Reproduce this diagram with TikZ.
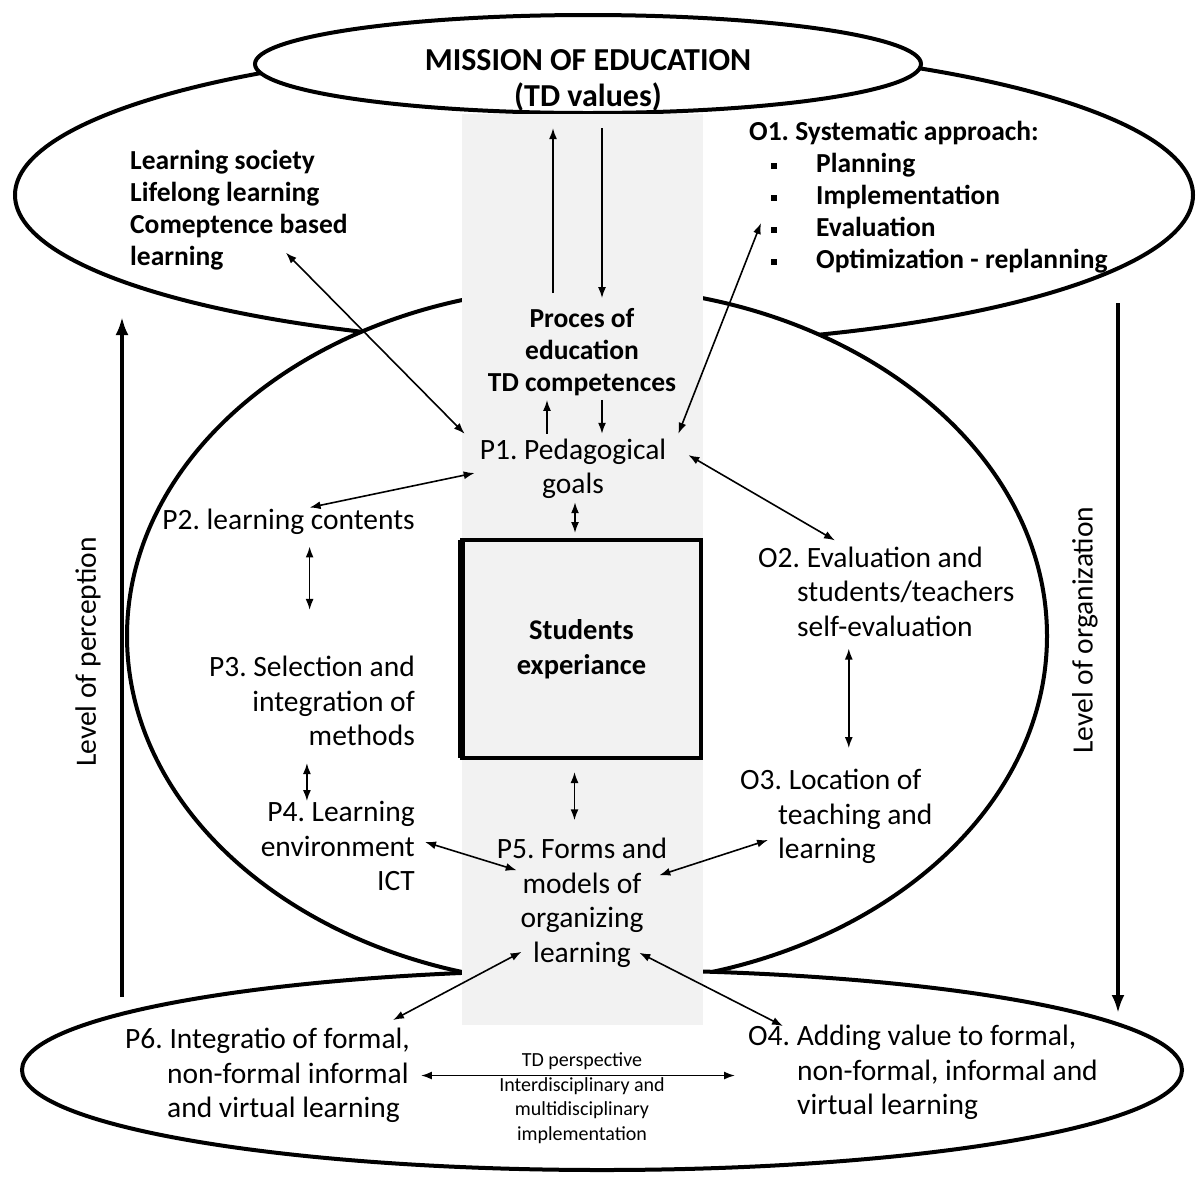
\documentclass[tikz,border=0pt]{standalone}
\usepackage{fontspec}
\setmainfont{Carlito}
\usetikzlibrary{arrows.meta}
\frenchspacing

\newcommand{\sqbullet}{\hspace*{22pt}\rule[3.4pt]{6pt}{6pt}\hspace*{39pt}}

\begin{document}
\begin{tikzpicture}[
  x = 1pt, y = -1pt,
  ring/.style = {
    draw = black,
    fill = white,
    line width = 4pt,
  },
  txt/.style = {
    inner sep = 0pt,
    font = \fontsize{29.5}{34.5}\selectfont,
  },
  boldtxt/.style = {
    inner sep = 0pt,
    font = \fontsize{27.5}{32}\selectfont\bfseries,
  },
  smalltxt/.style = {
    inner sep = 0pt,
    font = \fontsize{20}{24.5}\selectfont,
  },
  twoway/.style = {
    {Latex[length = 11pt, width = 8pt]}-{Latex[length = 11pt, width = 8pt]},
    line width = 1.6pt,
  },
  oneway/.style = {
    -{Latex[length = 11pt, width = 8pt]},
    line width = 1.6pt,
  },
  bigarrow/.style = {
    -{Latex[length = 18pt, width = 13pt]},
    line width = 3.5pt,
  }
]
  \useasboundingbox (0, 0) rectangle (1196, 1179);

  \draw[ring] (604, 195) ellipse [x radius = 589, y radius = 150];
  \draw[ring] (587, 636) ellipse [x radius = 460, y radius = 349];
  \draw[ring] (602, 1070) ellipse [x radius = 580, y radius = 100];
  \draw[ring] (588, 64) ellipse [x radius = 333, y radius = 49];

  \fill[gray!10] (462, 114) rectangle (703, 1025);

  \node[boldtxt, font = \fontsize{32}{36}\selectfont\bfseries, align = center] (mission) at (588, 80) {MISSION OF EDUCATION\\(TD values)};
  \node[boldtxt, anchor = west, align = left] (society) at (130, 210.5) {Learning society\\Lifelong learning\\Comeptence based\\learning};
  \node[boldtxt, anchor = west, align = left] (o1) at (749, 197.5) {O1. Systematic approach:\\\sqbullet Planning\\\sqbullet Implementation\\\sqbullet Evaluation\\\sqbullet Optimization - replanning};
  \node[boldtxt, align = center] (proces) at (582, 352) {Proces of\\education\\TD competences};

  \node[txt, align = center] (p1) at (573, 469) {P1. Pedagogical\\goals};
  \node[txt, anchor = east] (p2) at (415, 521.5) {P2. learning contents};
  \node[txt, anchor = east, align = right] (p3) at (415, 701) {P3. Selection and\\integration of\\methods};
  \node[txt, anchor = east, align = right] (p4) at (415, 846) {P4. Learning\\environment\\ICT};
  \node[txt, align = center] (p5) at (582, 903) {P5. Forms and\\models of\\organizing\\learning};
  \node[txt, anchor = west, align = left] (p6) at (125, 1075.5) {P6. Integratio of formal,\\\hspace*{42pt}non-formal informal\\\hspace*{42pt}and virtual learning};

  \node[txt, anchor = west, align = left] (o2) at (758, 591.5) {O2. Evaluation and\\\hspace*{39pt}students/teachers\\\hspace*{39pt}self-evaluation};
  \node[txt, anchor = west, align = left] (o3) at (740, 816.5) {O3. Location of\\\hspace*{38pt}teaching and\\\hspace*{38pt}learning};
  \node[txt, anchor = west, align = left] (o4) at (748, 1072.5) {O4. Adding value to formal,\\\hspace*{49pt}non-formal, informal and\\\hspace*{49pt}virtual learning};

  \node[draw, fill = gray!10, line width = 4pt, inner sep = 0pt, minimum width = 239pt, minimum height = 218pt, align = center, font = \fontsize{28.5}{35}\selectfont\bfseries] (box) at (581.5, 649) {Students\\experiance};
  \draw[line width = 7pt] ([xshift = 1.5pt, yshift = -2pt]box.north west) -- ([xshift = 1.5pt, yshift = 2pt]box.south west);

  \node[smalltxt, align = center] (td) at (582, 1098) {TD perspective\\Interdisciplinary and\\multidisciplinary\\implementation};

  \node[txt, rotate = 90] (perception) at (88, 652) {Level of perception};
  \node[txt, rotate = 90] (organization) at (1085, 630) {Level of organization};

  \coordinate (perception low) at (122, 997);
  \coordinate (perception high) at (122, 317);
  \coordinate (organization high) at (1118, 303);
  \coordinate (organization low) at (1118, 1013);

  \draw[bigarrow] (perception low) -- (perception high);
  \draw[bigarrow] (organization high) -- (organization low);

  \begin{scope}[oneway]
    \draw[shorten <= 15pt, shorten >= 17pt] ([xshift = -29pt]proces.north) -- ([xshift = -29pt]proces.north |- mission.south);
    \draw[shorten <= 17pt, shorten >= 10pt] ([xshift = 20pt]proces.north |- mission.south) -- ([xshift = 20pt]proces.north);
    \draw[shorten <= 5pt, shorten >= 4pt] ([xshift = -26pt]p1.north) -- ([xshift = -26pt]p1.north |- proces.south);
    \draw[shorten <= 4pt, shorten >= 5pt] ([xshift = 29pt]p1.north |- proces.south) -- ([xshift = 29pt]p1.north);
  \end{scope}

  \begin{scope}[twoway]
    \draw ([xshift = -62pt, yshift = 18pt]society.south east) -- ([xshift = -15pt, yshift = 5pt]p1.north west);
    \draw ([xshift = 12pt, yshift = -25.5pt]o1.west) -- ([xshift = 12pt, yshift = 5pt]p1.north east);
    \draw ([xshift = 22pt, yshift = 14pt]p1.east) -- ([xshift = 77pt, yshift = 6pt]o2.north west);
    \draw ([xshift = 21pt, yshift = 1pt]p2.north) -- ([xshift = -5pt, yshift = -4pt]p1.west);
    \draw[shorten <= 12pt, shorten >= 46pt] ([xshift = 21pt]p2.south) -- ([xshift = 21pt]p2.south |- p3.north);
    \draw[shorten <= 3pt, shorten >= 5pt] ([xshift = 2pt]p1.south) -- ([xshift = 2pt]p1.south |- box.north);
    \draw[shorten <= 17pt] ([xshift = -5pt]p3.south) -- ([xshift = -5pt]p3.south |- p4.north);
    \draw[shorten <= 12pt, shorten >= 18pt] ([xshift = -7pt]box.south) -- ([xshift = -7pt]box.south |- p5.north);
    \draw[shorten <= 12pt, shorten >= 21pt] ([xshift = -37.5pt]o2.south) -- ([xshift = -37.5pt]o2.south |- o3.north);
    \draw ([xshift = 10pt, yshift = 4pt]p4.east) -- ([xshift = 20pt, yshift = -32pt]p5.north west);
    \draw ([xshift = 28pt, yshift = -23.5pt]o3.west) -- ([xshift = -8pt, yshift = -37pt]p5.north east);
    \draw ([xshift = -17pt, yshift = 8pt]p6.north east) -- ([xshift = 25pt, yshift = 16pt]p5.south west);
    \draw ([xshift = 35pt, yshift = -1pt]o4.north west) -- ([xshift = -28pt, yshift = 15pt]p5.south east);
    \draw[shorten <= 11pt, shorten >= 13pt] (p6.east) -- (p6.east -| o4.west);
  \end{scope}
\end{tikzpicture}
\end{document}
